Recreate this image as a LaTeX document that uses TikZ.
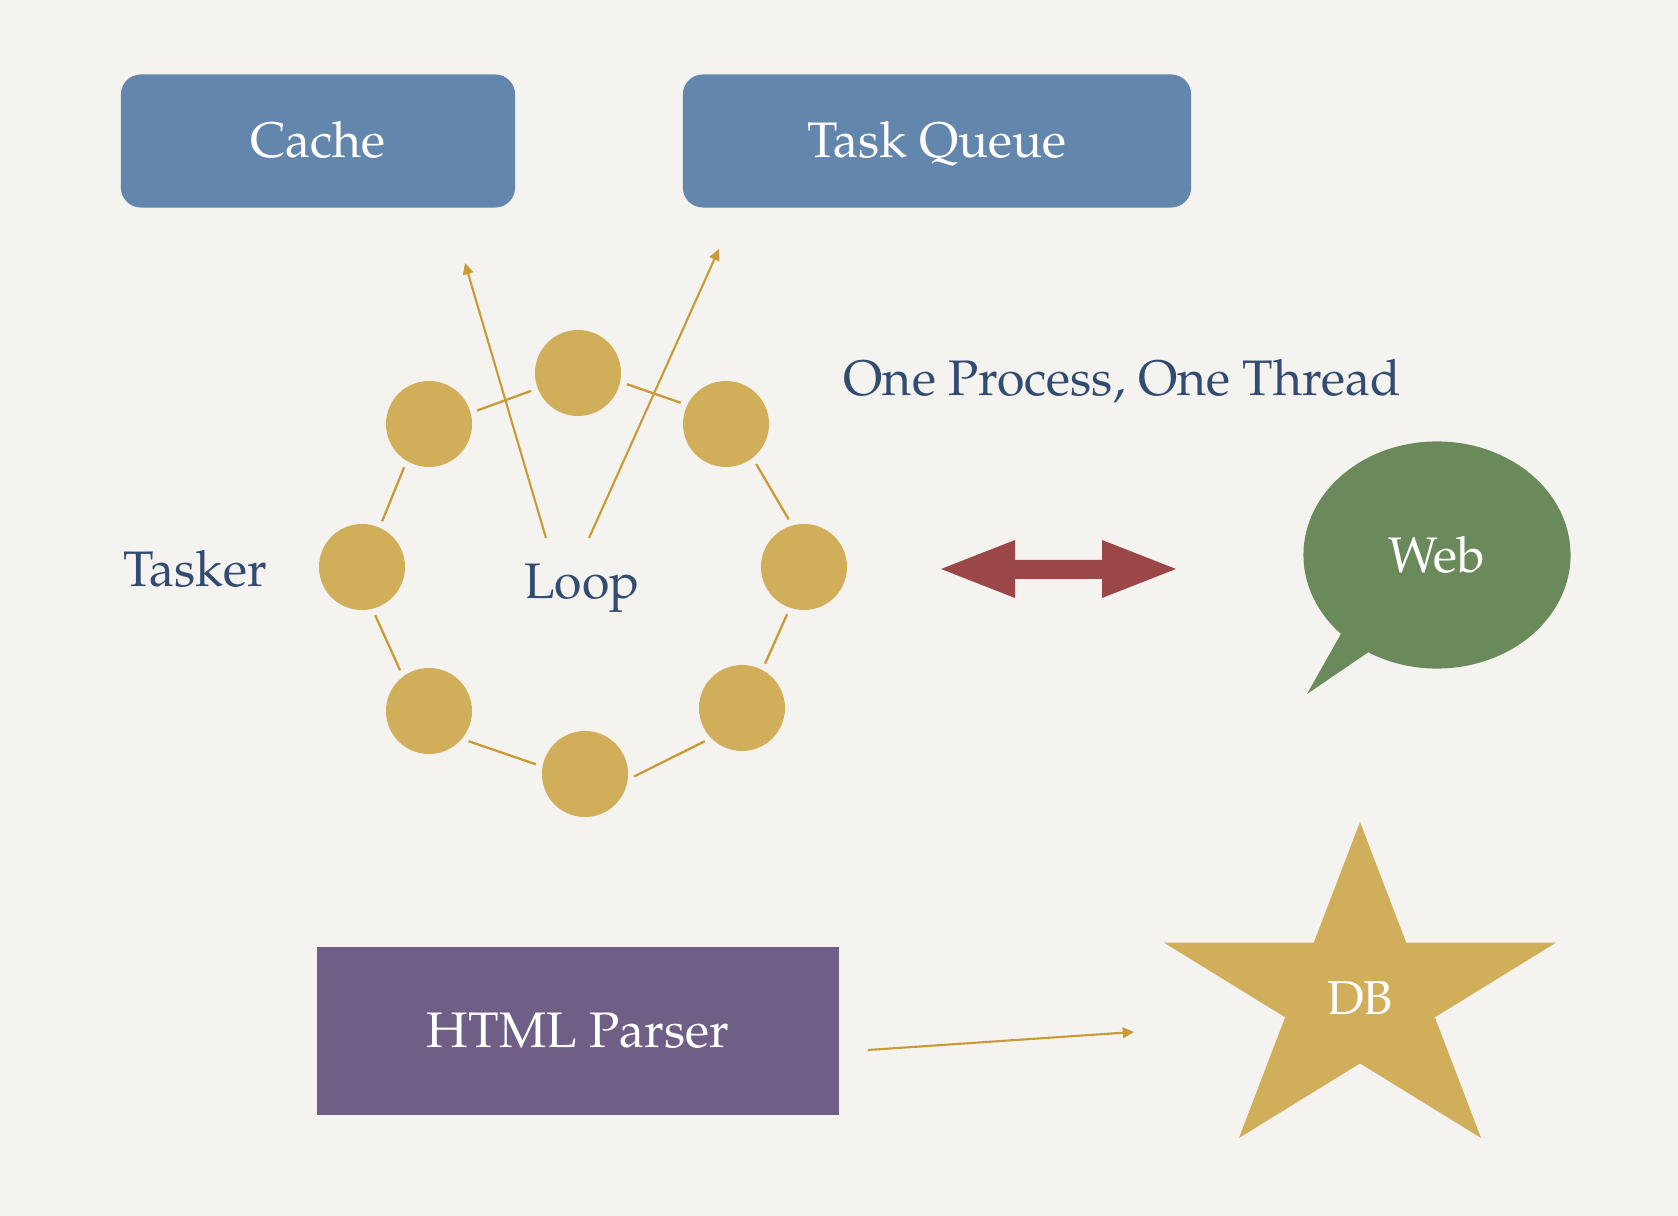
\documentclass[tikz,border=0pt]{standalone}
\usepackage[T1]{fontenc}
\usepackage{mathpazo}
\usetikzlibrary{arrows.meta,shapes.callouts}
\definecolor{paper}{HTML}{F5F3EF}
\definecolor{boxblue}{HTML}{6386AC}
\definecolor{gold}{HTML}{D1AE5A}
\definecolor{linegold}{HTML}{C99A35}
\definecolor{arrowred}{HTML}{9C4747}
\definecolor{webgreen}{HTML}{6A8A5B}
\definecolor{parserpurple}{HTML}{6F5F87}
\definecolor{ink}{HTML}{324B70}
\begin{document}
\begin{tikzpicture}[x=0.01cm, y=0.01cm,
  txt/.style={font=\fontsize{14.2}{17}\selectfont, inner sep=0pt},
  inktext/.style={txt, text=ink},
  bluebox/.style={txt, fill=boxblue, text=white, rounded corners=0.2cm, minimum height=1.33cm,
    text height=0.92em, text depth=0pt},
  ball/.style={circle, fill=gold, minimum size=0.86cm, inner sep=0pt},
  link/.style={draw=linegold, line width=0.65pt, shorten >=1.8pt, shorten <=1.8pt},
  flow/.style={draw=linegold, line width=0.6pt, -{Triangle[length=3.2pt,width=3pt]}}]
\fill[paper] (0,0) rectangle (1678,-1216);
\useasboundingbox (0,0) rectangle (1678,-1216);

% top boxes
\node[bluebox, minimum width=3.94cm] (cache) at (318,-141) {Cache};
\node[bluebox, minimum width=5.08cm] (queue) at (937,-141) {Task Queue};

% the loop ring
\foreach \n/\x/\y in {1/578/373, 2/726/424, 3/804/567, 4/742/708, 5/585/774, 6/429/711, 7/362/567, 8/429/424}
  \node[ball] (c\n) at (\x,-\y) {};
\foreach \a/\p/\b/\q in {1/-12/2/154, 2/-52/3/106, 3/-109/4/62, 4/-136/5/-7,
                          5/170/6/-40, 6/127/7/-76, 7/66/8/-121, 8/15/1/-159}
  \draw[link] (c\a.\p) -- (c\b.\q);

\node[inktext, anchor=base west] (tasker) at (123,-587) {Tasker};
\node[inktext, anchor=base] (loop) at (582,-599) {Loop};
\node[inktext, anchor=base west] (thread) at (843,-396) {One Process, One Thread};

\coordinate (cachein) at (465,-263);
\coordinate (queuein) at (719,-249);
\draw[flow] ([xshift=-0.36cm,yshift=0.61cm]loop.base) -- (cachein);
\draw[flow] ([xshift=0.07cm,yshift=0.61cm]loop.base) -- (queuein);

% double arrow
\fill[arrowred] (941,-569) -- (1015,-540) -- (1015,-560) -- (1102,-560) -- (1102,-540)
  -- (1176,-569) -- (1102,-598) -- (1102,-579) -- (1015,-579) -- (1015,-598) -- cycle;

% web bubble
\node[ellipse callout, fill=webgreen, text=white, txt, minimum width=2.67cm, minimum height=2.27cm,
  callout absolute pointer={(1307,-694)}] (web) at (1437,-555) {Web};

% db star
\begin{scope}[shift={(1360,-996.7)}]
\fill[gold] (90:206 and 174.7) \foreach \i in {0,...,4} {-- ({126+72*\i}:78.7 and 66.7) -- ({162+72*\i}:206 and 174.7)} -- cycle;
\end{scope}
\node[txt, text=white, font=\fontsize{13.5}{16}\selectfont] (db) at (1360,-998) {DB};

% parser
\node[txt, fill=parserpurple, text=white, minimum width=5.22cm, minimum height=1.68cm] (parser) at (578,-1031) {HTML Parser};
\coordinate (dbin) at (1134,-1032);
\draw[flow] ([xshift=0.28cm,yshift=-0.19cm]parser.east) -- (dbin);
\end{tikzpicture}
\end{document}
